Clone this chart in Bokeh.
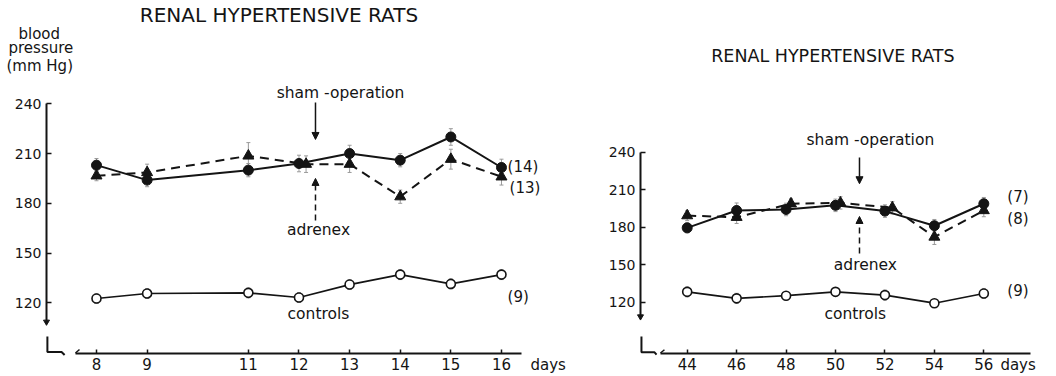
from bokeh.plotting import figure
from bokeh.layouts import row
from bokeh.models import (Label, Arrow, NormalHead, Whisker, ColumnDataSource,
                          FixedTicker, Range1d, TeeHead)
from bokeh.embed import file_html
from bokeh.resources import INLINE

# ---------------- data ----------------
days_a = [8, 9, 11, 12, 13, 14, 15, 16]
days_a_adx = [8, 9, 11, 12.14, 13, 14, 15, 16]
sham_a = [203, 194, 200, 204, 210, 206, 220, 201.6]
sham_a_sem = [4, 4, 4, 5, 5, 4, 5, 5]
adrenex_a = [196.6, 198.6, 208.6, 203.6, 203.6, 184, 206.6, 196]
adrenex_a_sem = [3, 5, 8, 5, 5, 4, 6, 5]
controls_a = [122.6, 125.6, 126, 123.2, 131, 137, 131.4, 137]
controls_a_sem = [3, 3, 3, 3, 3, 3, 3, 3]

days_b = [44, 46, 48, 50, 52, 54, 56]
days_b_adx = [44, 46, 48.2, 50.2, 52.3, 54, 56]
sham_b = [179.5, 193.4, 194.2, 197.5, 192.9, 181.2, 198.8]
sham_b_sem = [4, 6, 5, 5, 5, 5, 5]
adrenex_b = [189.3, 188, 198.8, 199.5, 195.6, 172.2, 193.4]
adrenex_b_sem = [4, 5, 4, 5, 5, 6, 5]
controls_b = [128.3, 123.1, 125.2, 128.3, 125.7, 119.2, 127]
controls_b_sem = [4, 4, 3, 3, 4, 3, 4]

y_ticks = [120, 150, 180, 210, 240]
n_a = ["(14)", "(13)", "(9)"]
n_b = ["(7)", "(8)", "(9)"]

FONT = "DejaVu Sans"
INK = "#141414"


def base_fig(width, xr, yr, xb, xticks, y_at, x_at):
    p = figure(width=width, height=376, x_range=Range1d(*xr), y_range=Range1d(*yr),
               output_backend="svg", toolbar_location=None, title=None,
               min_border_left=0, min_border_right=0,
               min_border_top=0, min_border_bottom=0)
    p.grid.visible = False
    p.outline_line_color = None
    p.background_fill_color = "white"
    p.border_fill_color = "white"
    for ax in p.yaxis:
        ax.fixed_location = y_at
        ax.ticker = FixedTicker(ticks=y_ticks)
        ax.bounds = (108, 240)
        ax.major_tick_in = 5
        ax.major_tick_out = 0
        ax.minor_tick_in = 0
        ax.minor_tick_out = 0
        ax.axis_line_width = 2
        ax.axis_line_color = INK
        ax.major_tick_line_width = 1.5
        ax.major_tick_line_color = INK
        ax.major_label_text_font = FONT
        ax.major_label_text_font_size = "14px"
        ax.major_label_text_color = INK
        ax.major_label_standoff = 5
    for ax in p.xaxis:
        ax.fixed_location = x_at
        ax.ticker = FixedTicker(ticks=xticks)
        ax.bounds = xb
        ax.major_tick_in = 4
        ax.major_tick_out = 0
        ax.minor_tick_in = 0
        ax.minor_tick_out = 0
        ax.axis_line_width = 2
        ax.axis_line_color = INK
        ax.major_tick_line_width = 1.5
        ax.major_tick_line_color = INK
        ax.major_label_text_font = FONT
        ax.major_label_text_font_size = "15px"
        ax.major_label_text_color = INK
        ax.major_label_standoff = 5
    return p


def add_series(p, xs, xs_adx, sham, sham_sem, adx, adx_sem, ctl, ctl_sem):
    for x, y, e in ((xs, sham, sham_sem), (xs_adx, adx, adx_sem), (xs, ctl, ctl_sem)):
        src = ColumnDataSource(dict(x=x, lo=[a - b for a, b in zip(y, e)],
                                    hi=[a + b for a, b in zip(y, e)]))
        w = Whisker(source=src, base="x", lower="lo", upper="hi",
                    line_color="#9a9a9a", line_width=1,
                    upper_head=TeeHead(size=4, line_color="#9a9a9a", line_width=1),
                    lower_head=TeeHead(size=4, line_color="#9a9a9a", line_width=1))
        p.add_layout(w)
    p.line(xs_adx, adx, line_color=INK, line_width=2, line_dash="9 6")
    p.line(xs, sham, line_color=INK, line_width=2)
    p.line(xs, ctl, line_color=INK, line_width=1.7)
    p.scatter(xs_adx, adx, marker="triangle", size=11, fill_color=INK, line_color=INK)
    p.scatter(xs, sham, marker="circle", size=10, fill_color=INK, line_color=INK)
    p.scatter(xs, ctl, marker="circle", size=9, fill_color="white", line_color=INK,
              line_width=1.6)


def lab(p, x, y, text, size="15.5px", align="center", base="middle"):
    p.add_layout(Label(x=x, y=y, text=text, text_font=FONT, text_font_size=size,
                       text_color=INK, text_align=align, text_baseline=base))


def arrow(p, x, y0, y1, dash="solid"):
    p.add_layout(Arrow(x_start=x, y_start=y0, x_end=x, y_end=y1, line_color=INK,
                       line_width=1.5, line_dash=dash,
                       end=NormalHead(size=7, fill_color=INK, line_color=INK)))


# ---------------- left panel ----------------
pa = base_fig(580, (6.1037, 17.561), (75.55, 302.3), (7.585, 16.4), days_a,
              7.0123, 89.72)
add_series(pa, days_a, days_a_adx, sham_a, sham_a_sem, adrenex_a, adrenex_a_sem,
           controls_a, controls_a_sem)
lab(pa, 11.73, 293.3, "RENAL  HYPERTENSIVE  RATS", size="20px")
lab(pa, 12.82, 246.8, "sham -operation")
arrow(pa, 12.326, 240.8, 218.5)
arrow(pa, 12.326, 169.6, 195.0, dash="6 4")
lab(pa, 12.385, 163.6, "adrenex")
lab(pa, 12.385, 113.0, "controls")
lab(pa, 16.12, 201.6, n_a[0], size="15px", align="left")
lab(pa, 16.16, 189.5, n_a[1], size="15px", align="left")
lab(pa, 16.12, 123.2, n_a[2], size="15px", align="left")
lab(pa, 6.459, 281.8, "blood", size="15px", align="left")
lab(pa, 6.262, 273.9, "pressure", size="15px", align="left")
lab(pa, 6.222, 262.5, "(mm Hg)", size="15px", align="left")
lab(pa, 16.573, 82.2, "days", size="15px", align="left")
# broken-axis marks
pa.scatter([7.0123], [108.5], marker="inverted_triangle", size=6, fill_color=INK,
           line_color=INK)
pa.line([7.03, 7.03, 7.31, 7.37], [99.7, 90.3, 90.3, 88.5], line_color=INK, line_width=2)
pa.line([7.585, 7.664], [89.72, 91.8], line_color=INK, line_width=1.5)

# ---------------- right panel ----------------
pb = base_fig(476, (39.684, 58.94), (60.56, 361.4), (42.92, 57.89), days_b,
              42.111, 79.36)
add_series(pb, days_b, days_b_adx, sham_b, sham_b_sem, adrenex_b, adrenex_b_sem,
           controls_b, controls_b_sem)
lab(pb, 50.12, 316.6, "RENAL  HYPERTENSIVE  RATS", size="17.5px")
lab(pb, 51.41, 249.4, "sham -operation")
arrow(pb, 50.97, 235.8, 214.8)
arrow(pb, 50.97, 159.0, 188.6, dash="6 4")
lab(pb, 51.21, 149.4, "adrenex")
lab(pb, 50.8, 110.9, "controls")
lab(pb, 56.95, 203.8, n_b[0], size="15px", align="left")
lab(pb, 56.95, 186.2, n_b[1], size="15px", align="left")
lab(pb, 56.95, 128.6, n_b[2], size="15px", align="left")
lab(pb, 56.67, 69.4, "days", size="15px", align="left")
pb.scatter([42.111], [108.5], marker="inverted_triangle", size=6, fill_color=INK,
           line_color=INK)
pb.line([42.15, 42.15, 42.68, 42.76], [92.6, 79.9, 79.9, 78.0], line_color=INK,
        line_width=2)
pb.line([42.92, 43.08], [79.36, 82.0], line_color=INK, line_width=1.5)

layout = row(pa, pb)
open("out.html", "w").write(file_html(layout, INLINE))
